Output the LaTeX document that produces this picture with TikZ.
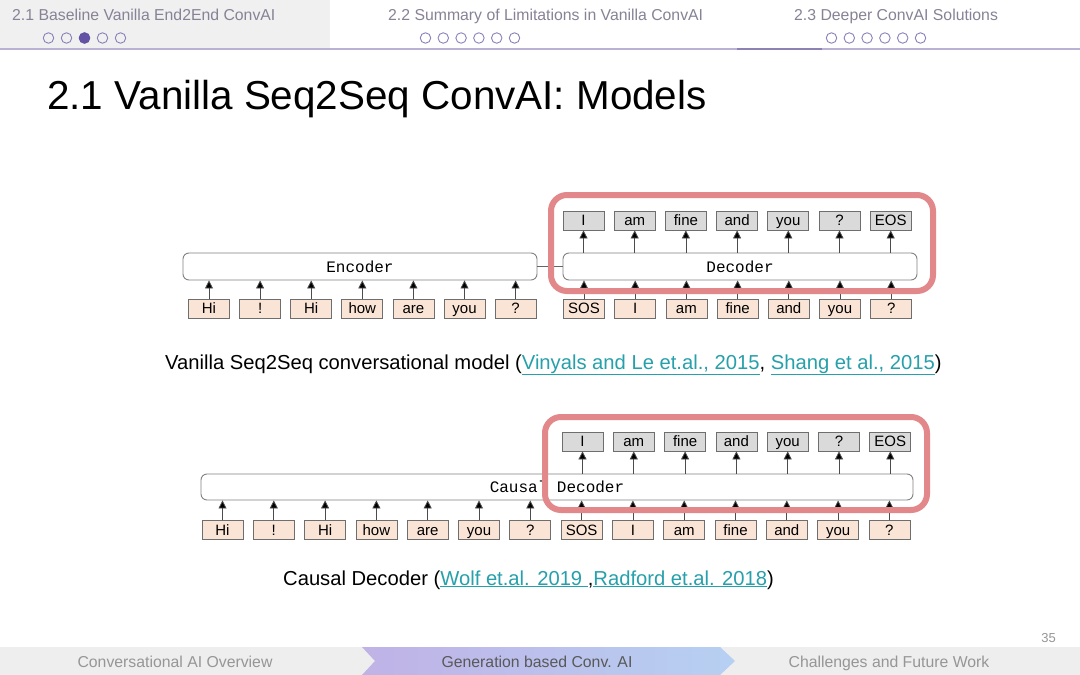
\documentclass[tikz,border=0pt]{standalone}
\usepackage{fontspec}
\setmainfont{Liberation Sans}
\setmonofont{Liberation Mono}
\usetikzlibrary{arrows.meta,shadings}
\definecolor{hdrtext}{RGB}{135,130,150}
\definecolor{dotcol}{RGB}{140,128,185}
\definecolor{dotfill}{RGB}{100,82,165}
\definecolor{tokin}{RGB}{250,228,214}
\definecolor{tokout}{RGB}{218,218,218}
\definecolor{tokborder}{RGB}{110,110,110}
\definecolor{boxborder}{RGB}{130,130,130}
\definecolor{hl}{RGB}{226,136,138}
\definecolor{linkcol}{RGB}{38,160,170}
\definecolor{footbg}{RGB}{238,238,238}
\definecolor{footgray}{RGB}{150,150,150}
\definecolor{chevL}{RGB}{192,178,230}
\definecolor{chevR}{RGB}{182,208,242}
\newcommand{\lnk}[1]{\textcolor{linkcol}{\underline{#1}}}
\begin{document}
\begin{tikzpicture}[x=1pt,y=-1pt,
  tokbase/.style={draw=tokborder, line width=0.8pt, minimum width=41pt, minimum height=19pt, inner sep=0pt, text height=12pt, text depth=1.5pt, font=\fontsize{15}{15}\selectfont},
  tokinp/.style={tokbase, fill=tokin},
  tokoutp/.style={tokbase, fill=tokout},
  bigbox/.style={draw=boxborder, line width=0.9pt, rounded corners=6pt, fill=white, minimum height=27pt, inner sep=0pt, font=\ttfamily\fontsize{16}{16}\selectfont},
  arr/.style={draw=black!70, line width=0.8pt, -{Triangle[length=8pt,width=8pt,fill=black]}},
  redbox/.style={draw=hl, line width=6pt, rounded corners=16pt},
  hdr/.style={font=\fontsize{15.8}{15.8}\selectfont, text=hdrtext, anchor=base west, inner sep=0pt},
  dot/.style={circle, draw=dotcol, line width=0.9pt, minimum size=10.5pt, inner sep=0pt},
  foot/.style={font=\fontsize{15.8}{15.8}\selectfont, inner sep=0pt, anchor=base}
]
\useasboundingbox (0,0) rectangle (1080,675);
\fill[white] (0,0) rectangle (1080,675);
% header
\fill[black!6] (0,0) rectangle (330,48);
\draw[draw={rgb,255:red,185;green,178;blue,212}, line width=1.2pt] (0,49) -- (1080,49);
\draw[draw={rgb,255:red,140;green,130;blue,180}, line width=2pt] (737,49) -- (822,49);
\node[hdr] (h1) at (12,20) {2.1 Baseline Vanilla End2End ConvAI};
\node[hdr] (h2) at (388,20) {2.2 Summary of Limitations in Vanilla ConvAI};
\node[hdr] (h3) at (794,20) {2.3 Deeper ConvAI Solutions};
\foreach \i in {0,...,4} {\node[dot] (da\i) at (48.5+18*\i,38) {};}
\node[dot, fill=dotfill, draw=dotfill] (dsel) at (84.5,38) {};
\foreach \i in {0,...,5} {\node[dot] (db\i) at (425.5+17.8*\i,38) {};}
\foreach \i in {0,...,5} {\node[dot] (dc\i) at (831.5+17.8*\i,38) {};}
% title
\node[anchor=base west, inner sep=0pt, font=\fontsize{40.4}{40.4}\selectfont] (title) at (47,109) {2.1 Vanilla Seq2Seq ConvAI: Models};

% ---------- diagram 1
\node[bigbox, minimum width=354pt] (enc) at (360,266.5) {Encoder};
\node[bigbox, minimum width=354pt] (dec) at (740,266.5) {Decoder};
\draw[draw=black!60, line width=0.8pt] (enc.east) -- (dec.west);
\foreach \t [count=\i from 0] in {Hi,!,Hi,how,are,you,?} {
  \node[tokinp] (ei\i) at (209+51.1*\i,308.5) {\t};
  \draw[arr] (ei\i.north) -- (ei\i.north |- enc.south);
}
\foreach \t [count=\i from 0] in {SOS,I,am,fine,and,you,?} {
  \node[tokinp] (di\i) at (584+51.2*\i,308.5) {\t};
  \draw[arr] (di\i.north) -- (di\i.north |- dec.south);
}
\foreach \t [count=\i from 0] in {I,am,fine,and,you,?,EOS} {
  \node[tokoutp] (do\i) at (583.5+51.2*\i,220.5) {\t};
  \draw[arr] (do\i.south |- dec.north) -- (do\i.south);
}
\draw[redbox] (551,195) rectangle (933,291);
\node[anchor=base west, inner sep=0pt, font=\fontsize{20.2}{20.2}\selectfont] (cap1) at (165,369)
  {Vanilla Seq2Seq conversational model (\lnk{Vinyals and Le et.al., 2015}, \lnk{Shang et al., 2015})};

% ---------- diagram 2
\node[bigbox, minimum width=712pt, minimum height=26pt] (cd) at (557,487) {Causal Decoder};
\foreach \t [count=\i from 0] in {Hi,!,Hi,how,are,you,?,SOS,I,am,fine,and,you,?} {
  \node[tokinp] (ci\i) at (222.5+51.3*\i,530) {\t};
  \draw[arr] (ci\i.north) -- (ci\i.north |- cd.south);
}
\foreach \t [count=\i from 0] in {I,am,fine,and,you,?,EOS} {
  \node[tokoutp] (co\i) at (582.5+51.3*\i,441.5) {\t};
  \draw[arr] (co\i.south |- cd.north) -- (co\i.south);
}
\draw[redbox] (545,417) rectangle (927,510);
\node[anchor=base west, inner sep=0pt, font=\fontsize{20.2}{20.2}\selectfont] (cap2) at (283,585)
  {Causal Decoder (\lnk{Wolf et.al. 2019 },\lnk{Radford et.al. 2018})};

% ---------- footer
\node[anchor=base east, inner sep=0pt, font=\fontsize{13}{13}\selectfont, text=footgray] (pg) at (1056,642) {35};
\fill[footbg] (0,647) rectangle (1080,675);
\shade[left color=chevL, right color=chevR] (362,647) -- (720,647) -- (735,661) -- (720,675) -- (362,675) -- (375,661) -- cycle;
\node[foot, text=footgray] (f1) at (175,667) {Conversational AI Overview};
\node[foot, text=black!65] (f2) at (537,667) {Generation based Conv. AI};
\node[foot, text=footgray] (f3) at (889,667) {Challenges and Future Work};
\end{tikzpicture}
\end{document}
